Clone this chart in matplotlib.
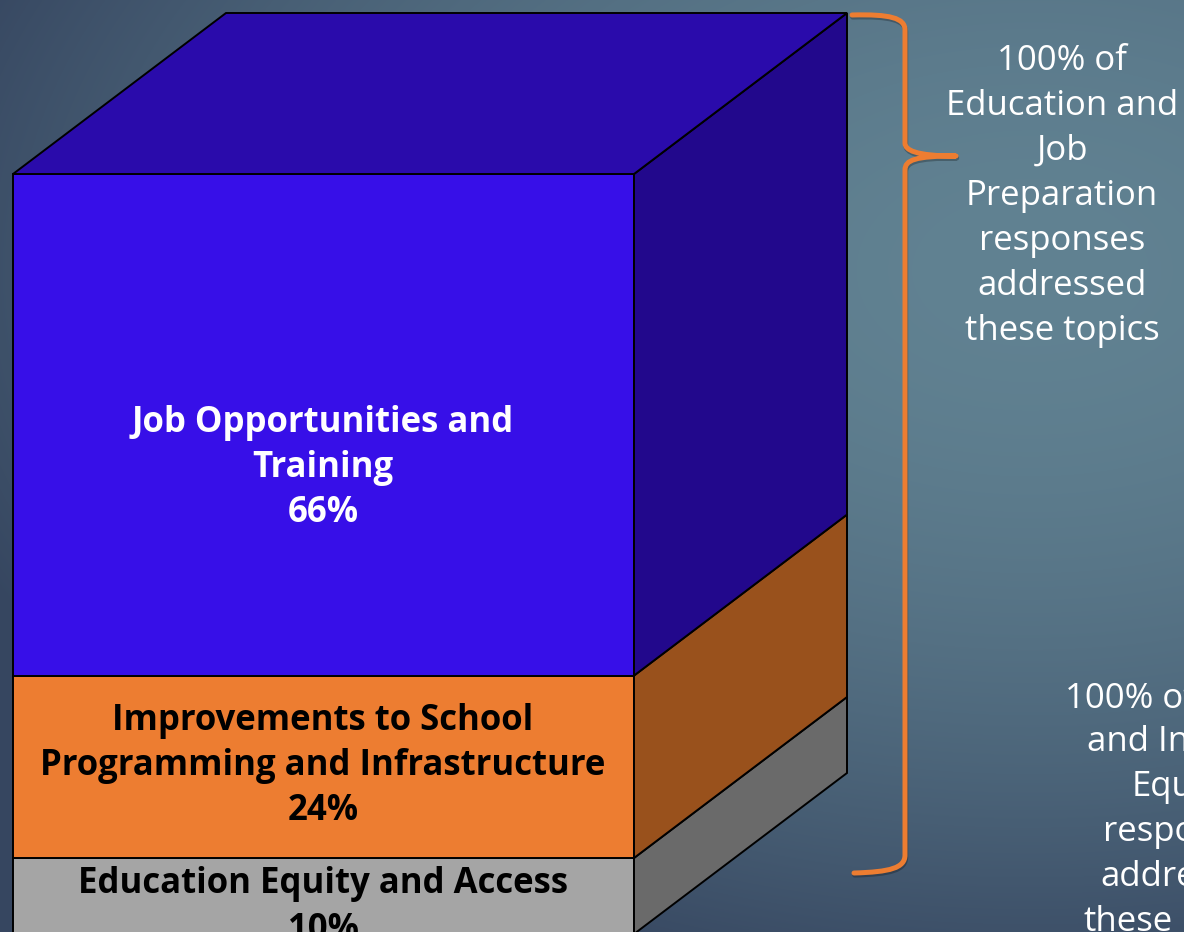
import matplotlib
matplotlib.use('Agg')
import matplotlib.pyplot as plt
import matplotlib.patheffects as pe
import numpy as np
from matplotlib.colors import to_rgb
from matplotlib.path import Path
from matplotlib.patches import PathPatch

plt.rcParams['font.family'] = ['Open Sans', 'DejaVu Sans']

W, H = 1184, 932

# bottom to top
shares = [10, 24, 66]
labels = ['Education Equity and Access\n10%',
          'Improvements to School\nProgramming and Infrastructure\n24%',
          'Job Opportunities and\nTraining\n66%']
front_colors = ['#a5a5a5', '#ed7d31', '#370fe8']
side_colors = ['#6a6a6a', '#99511c', '#22088c']
top_color = '#2a0bab'
text_colors = ['black', 'black', 'white']
label_y = [907, 766, 468]

note_top = '100% of\nEducation and\nJob\nPreparation\nresponses\naddressed\nthese topics'
note_bottom = ['100% of', 'and In', 'Equ', 'respo', 'addre', 'these']
note_bottom_x = [1065, 1087, 1132, 1103, 1100, 1084]
note_bottom_y = [699, 742, 787, 832, 877, 922]

fig = plt.figure(figsize=(W / 100, H / 100), dpi=100)

# background
bg = fig.add_axes([0, 0, 1, 1])
yy, xx = np.mgrid[0:H, 0:W]
d = np.sqrt(((xx - 1030) / 1150) ** 2 + ((yy - 270) / 740) ** 2)
d = np.clip(d, 0, 1)[..., None] ** 1.8
inner = np.array(to_rgb('#618292'))
outer = np.array(to_rgb('#364660'))
bg.imshow(inner * (1 - d) + outer * d, extent=(0, W, H, 0), aspect='auto')
bg.axis('off')

# cube: x in pixels, y in percent of responses
px_per_pct = 7.6
base_px = 934
ax = fig.add_axes([0, 0, 1, 1])
ax.patch.set_alpha(0)
ax.set_xlim(0, W)
ax.set_ylim((base_px - H) / px_per_pct, base_px / px_per_pct)
ax.axis('off')

left = 13
width = 621
depth_x = 213
depth_y = 161 / px_per_pct

bottom = 0
for share, front, side in zip(shares, front_colors, side_colors):
    ax.bar(left, share, width=width, bottom=bottom, align='edge',
           color=front, edgecolor='black', linewidth=1.4)
    r = left + width
    ax.fill([r, r + depth_x, r + depth_x, r],
            [bottom, bottom + depth_y, bottom + share + depth_y, bottom + share],
            color=side, ec='black', lw=1.4)
    bottom += share

ax.fill([left, left + depth_x, left + width + depth_x, left + width],
        [bottom, bottom + depth_y, bottom + depth_y, bottom],
        color=top_color, ec='black', lw=1.4)

# texts and bracket in pixel coordinates
over = fig.add_axes([0, 0, 1, 1])
over.patch.set_alpha(0)
over.set_xlim(0, W)
over.set_ylim(H, 0)
over.axis('off')

for lab, c, y in zip(labels, text_colors, label_y):
    over.text(323, y, lab, color=c, fontsize=25, fontweight='bold',
              ha='center', va='center', linespacing=1.35)

over.text(1062, 196, note_top, color='white', fontsize=25, ha='center',
          va='center', linespacing=1.42)
for s, x, y in zip(note_bottom, note_bottom_x, note_bottom_y):
    over.text(x, y, s, color='white', fontsize=25, ha='left', va='center')

verts = [(852, 15), (890, 14), (905, 18), (905, 30),
         (905, 143), (905, 150), (915, 156), (956, 156),
         (915, 156), (905, 160), (905, 170),
         (905, 855), (905, 868), (890, 872), (854, 873)]
codes = [Path.MOVETO, Path.CURVE4, Path.CURVE4, Path.CURVE4,
         Path.LINETO, Path.CURVE4, Path.CURVE4, Path.CURVE4,
         Path.CURVE4, Path.CURVE4, Path.CURVE4,
         Path.LINETO, Path.CURVE4, Path.CURVE4, Path.CURVE4]
brace = PathPatch(Path(verts, codes), fc='none', ec='#ed7d31',
                  lw=3.6, capstyle='round', joinstyle='round')
brace.set_path_effects([pe.SimpleLineShadow(offset=(0.5, -1.5), shadow_color='black', alpha=0.25),
                        pe.Normal()])
over.add_patch(brace)

fig.savefig('out.png', dpi=100)
